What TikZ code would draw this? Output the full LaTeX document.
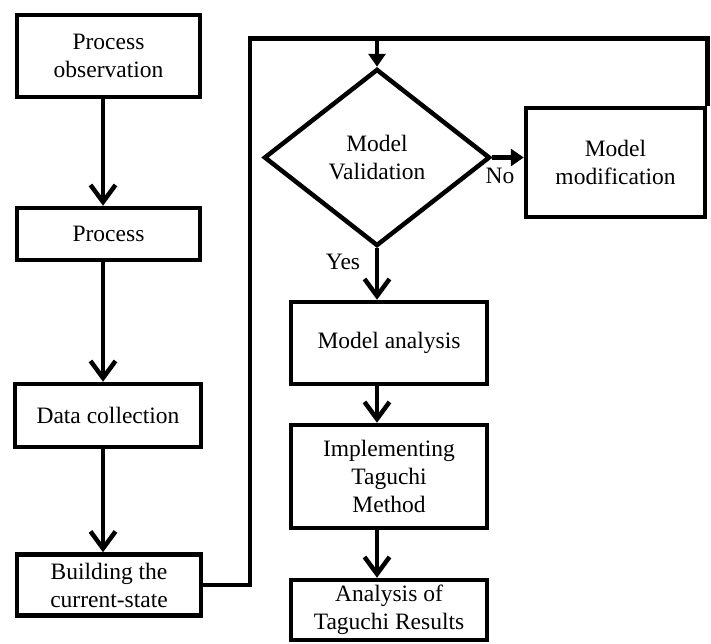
\documentclass[tikz,border=0pt]{standalone}
\usepackage{fontspec}
\setmainfont{Liberation Serif}
\usetikzlibrary{arrows.meta,shapes.geometric}
\begin{document}
\begin{tikzpicture}[x=1pt,y=-1pt,line width=4.5pt,line join=miter,
  txt/.style={font=\fontsize{23.5}{28}\selectfont},
  box/.style={draw,rectangle,inner sep=0pt,align=center,txt},
  dia/.style={draw,diamond,inner sep=0pt,align=center,txt,minimum width=226,minimum height=177},
  varrow/.style={-{Straight Barb[length=17pt,width=25pt]}},
  tarrow/.style={-{Triangle[length=13pt,width=17pt]}}]
\useasboundingbox (0,0) rectangle (711,643);
% left column
\node[box,minimum width=183,minimum height=82] (obs) at (108.5,56) {Process\\observation};
\node[box,minimum width=183,minimum height=52] (proc) at (108.5,234) {Process};
\node[box,minimum width=186,minimum height=63] (data) at (108,415.5) {Data collection};
\node[box,minimum width=184,minimum height=61] (build) at (109,585) {Building the\\current-state};
% right column
\node[dia] (val) at (377,157.5) {Model\\Validation};
\node[box,minimum width=179,minimum height=109] (mod) at (615.5,162.5) {Model\\modification};
\node[box,minimum width=196,minimum height=82] (anal) at (389,343) {Model analysis};
\node[box,minimum width=196,minimum height=103] (impl) at (389,476.5) {Implementing\\Taguchi\\Method};
\node[box,minimum width=196,minimum height=60] (res) at (389,610) {Analysis of\\Taguchi Results};
% helper coordinates
\coordinate (lx) at (103,0);
\coordinate (rx) at (377,0);
\coordinate (lp) at (250,38.5);
% left arrows
\draw[varrow] (obs.south -| lx) -- (proc.north -| lx);
\draw[varrow] (proc.south -| lx) -- (data.north -| lx);
\draw[varrow] (data.south -| lx) -- (build.north -| lx);
% loop to validation
\draw[tarrow] (build.east) -| (lp) -| (val.north);
\draw (mod.north east) |- (lp -| val.north);
% no branch
\draw[tarrow] (val.east) -- (val.east -| mod.west);
\node[txt] (no) at (500,176) {No};
% yes branch
\draw[varrow] (val.south) -- (anal.north -| rx);
\node[txt] (yes) at (343,262) {Yes};
\draw[varrow] (anal.south -| rx) -- (impl.north -| rx);
\draw[varrow] (impl.south -| rx) -- (res.north -| rx);
\end{tikzpicture}
\end{document}
